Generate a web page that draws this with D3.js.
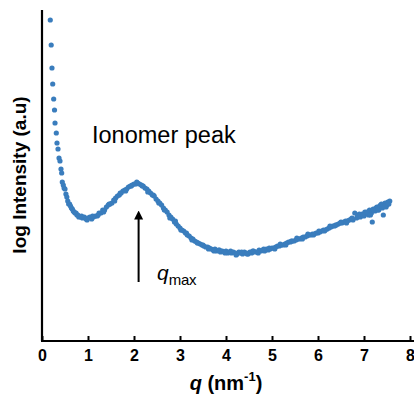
<!DOCTYPE html>
<html>
<head>
<meta charset="utf-8">
<script src="https://cdn.jsdelivr.net/npm/d3@7"></script>
<style>
  html, body { margin: 0; padding: 0; background: #fff; }
  svg text { font-family: "Liberation Sans", Arial, sans-serif; }
</style>
</head>
<body>
<div id="chart"></div>
<script>
// scattering vector q (nm^-1) and log intensity (arbitrary units)
const qValues = [
  0.18, 0.20, 0.217, 0.233, 0.254, 0.272, 0.283, 0.311, 0.326, 0.348, 0.37, 0.391, 0.413, 0.428, 0.441, 0.463,
  0.48, 0.50, 0.52, 0.54, 0.56, 0.58, 0.60, 0.62, 0.64, 0.66, 0.68, 0.70, 0.72, 0.74, 0.76, 0.78, 0.80,
  0.84, 0.88, 0.92, 0.96, 1.00, 1.04, 1.08, 1.12, 1.16, 1.20, 1.24, 1.28, 1.32, 1.36, 1.40, 1.44, 1.48,
  1.52, 1.56, 1.60, 1.64, 1.68, 1.72, 1.76, 1.80, 1.84, 1.88, 1.92, 1.96, 2.00, 2.04, 2.08, 2.12, 2.16,
  2.20, 2.24, 2.28, 2.32, 2.36, 2.40, 2.44, 2.48, 2.52, 2.56, 2.60, 2.64, 2.68, 2.72, 2.76, 2.80, 2.84,
  2.88, 2.92, 2.96, 3.00, 3.04, 3.08, 3.12, 3.16, 3.20, 3.24, 3.28, 3.32, 3.36, 3.40, 3.44, 3.48, 3.52,
  3.56, 3.60, 3.64, 3.68, 3.72, 3.76, 3.80, 3.84, 3.88, 3.92, 3.96, 4.00, 4.04, 4.08, 4.12, 4.16, 4.20,
  4.24, 4.28, 4.32, 4.36, 4.40, 4.44, 4.48, 4.52, 4.56, 4.60, 4.64, 4.68, 4.72, 4.76, 4.80, 4.84, 4.88,
  4.92, 4.96, 5.00, 5.04, 5.08, 5.12, 5.16, 5.20, 5.24, 5.28, 5.32, 5.36, 5.40, 5.44, 5.48, 5.52, 5.56,
  5.60, 5.64, 5.68, 5.72, 5.76, 5.80, 5.84, 5.88, 5.92, 5.96, 6.00, 6.04, 6.08, 6.12, 6.16, 6.20, 6.24,
  6.28, 6.32, 6.36, 6.40, 6.44, 6.48, 6.52, 6.56, 6.60, 6.64, 6.68, 6.72, 6.76, 6.80, 6.84, 6.88, 6.92,
  6.96, 7.00, 7.04, 7.08, 7.12, 7.16, 7.20, 7.24, 7.28, 7.32, 7.36, 7.40, 7.44, 7.48, 7.52, 7.56,
  6.90, 7.02, 7.10, 7.18, 7.26, 7.34, 7.42, 7.46, 7.50, 7.54,
  // second, noisier pass over the band
  0.86, 0.98, 1.10, 1.22, 1.34, 1.46, 1.58, 1.70, 1.82, 1.94, 2.06, 2.18, 2.30, 2.42, 2.54, 2.66, 2.78,
  2.90, 3.02, 3.14, 3.26, 3.38, 3.50, 3.62, 3.74, 3.86, 3.98, 4.10, 4.22, 4.34, 4.46, 4.58, 4.70, 4.82,
  4.94, 5.06, 5.18, 5.30, 5.42, 5.54, 5.66, 5.78, 5.90, 6.02, 6.14, 6.26, 6.38, 6.50, 6.62, 6.74, 6.86,
  6.98, 7.06, 7.14, 7.22, 7.30, 7.38, 7.45, 7.52
];
const intensity = [
  321, 296, 273, 257, 242, 231, 218, 208, 198, 192, 183, 180, 172, 168, 159, 156,
  153, 152, 147, 144, 140, 137, 137, 135, 133, 132, 130, 129, 128, 128, 126, 126, 124,
  124, 123, 124, 122, 123, 124, 122, 124, 125, 125, 128, 128, 131, 131, 134, 136, 137,
  138, 141, 143, 145, 146, 148, 150, 151, 152, 154, 155, 156, 157, 157, 158, 157, 156,
  155, 153, 152, 150, 148, 146, 145, 142, 140, 138, 136, 133, 131, 129, 126, 124, 122,
  119, 117, 115, 113, 111, 110, 108, 106, 105, 103, 102, 100, 99, 98, 97, 96, 95,
  94, 94, 93, 92, 91, 92, 90, 91, 89, 90, 89, 90, 88, 89, 88, 89, 88,
  87, 89, 88, 87, 89, 88, 87, 89, 88, 90, 89, 89, 91, 90, 91, 90, 92,
  91, 92, 93, 93, 94, 95, 95, 96, 96, 97, 98, 99, 99, 100, 100, 101, 102,
  102, 103, 104, 104, 105, 106, 106, 107, 107, 108, 108, 109, 110, 111, 111, 112, 113,
  114, 115, 115, 116, 117, 118, 118, 119, 120, 120, 121, 122, 121, 128, 123, 126, 124,
  127, 125, 128, 127, 131, 128, 132, 130, 134, 131, 136, 133, 137, 134, 139, 140,
  127, 129, 126, 119, 133, 135, 126, 138, 136, 137,
  125, 121, 125, 126, 129, 137, 140, 148, 150, 155, 159, 155, 149, 146, 138, 131, 123,
  120, 111, 108, 101, 98, 96, 92, 90, 91, 88, 90, 86, 89, 87, 90, 88, 92,
  93, 92, 97, 96, 100, 103, 102, 107, 106, 110, 110, 115, 116, 119, 118, 123, 125,
  126, 129, 126, 131, 131, 137, 135, 138
];
const xTicks = [0, 1, 2, 3, 4, 5, 6, 7, 8];
const peakQ = 2.1;
const arrowSpan = [59, 130];

const width = 414, height = 395;
const margin = {left: 42, top: 10, bottom: 54};

const svg = d3.select('#chart').append('svg')
  .attr('width', width).attr('height', height);

const xScale = d3.scaleLinear().domain([0, 8]).range([margin.left, margin.left + 8 * 46]);
const yScale = d3.scaleLinear().domain([0, 331]).range([height - margin.bottom, margin.top]);

const points = qValues.map((q, i) => ({q: q, v: intensity[i]}));

// data
svg.append('g')
  .selectAll('circle')
  .data(points)
  .join('circle')
  .attr('cx', d => xScale(d.q))
  .attr('cy', d => yScale(d.v))
  .attr('r', 2.6)
  .attr('fill', '#3a7dbd');

// axes
const xAxis = svg.append('g')
  .attr('transform', `translate(0,${yScale(0)})`)
  .call(d3.axisBottom(xScale).tickValues(xTicks).tickSizeInner(-5).tickSizeOuter(0).tickPadding(9));

xAxis.select('.domain').attr('stroke', '#000').attr('stroke-width', 2.2)
  .attr('d', `M${margin.left - 1},0H${width}`);
xAxis.selectAll('.tick line').attr('stroke', '#000').attr('stroke-width', 2);
xAxis.selectAll('.tick text')
  .attr('font-family', '"Liberation Sans", Arial, sans-serif')
  .attr('font-size', 16).attr('font-weight', 'bold').attr('fill', '#000');

svg.append('line')
  .attr('x1', xScale(0)).attr('x2', xScale(0))
  .attr('y1', margin.top).attr('y2', yScale(0))
  .attr('stroke', '#000').attr('stroke-width', 2.2);

// axis titles
const xTitle = svg.append('text')
  .attr('x', xScale(4)).attr('y', 390)
  .attr('text-anchor', 'middle')
  .attr('font-size', 20).attr('font-weight', 'bold');
xTitle.append('tspan').attr('font-style', 'italic').text('q');
xTitle.append('tspan').text(' (nm');
xTitle.append('tspan').attr('font-size', 13).attr('dy', -9).text('-1');
xTitle.append('tspan').attr('dy', 9).text(')');

svg.append('text')
  .attr('transform', `translate(26,175) rotate(-90)`)
  .attr('text-anchor', 'middle')
  .attr('font-size', 19).attr('font-weight', 'bold')
  .text('log Intensity (a.u)');

// annotations
svg.append('text')
  .attr('x', 92).attr('y', 143)
  .attr('font-size', 23.5)
  .text('Ionomer peak');

svg.append('defs').append('marker')
  .attr('id', 'arrowhead')
  .attr('viewBox', '0 0 10 10')
  .attr('refX', 5).attr('refY', 5)
  .attr('markerWidth', 4.5).attr('markerHeight', 5)
  .attr('orient', 'auto')
  .append('path').attr('d', 'M0,0L10,5L0,10Z').attr('fill', '#000');

svg.append('line')
  .attr('x1', xScale(peakQ)).attr('x2', xScale(peakQ))
  .attr('y1', yScale(arrowSpan[0])).attr('y2', yScale(arrowSpan[1]) + 4)
  .attr('stroke', '#000').attr('stroke-width', 2)
  .attr('marker-end', 'url(#arrowhead)');

const qmax = svg.append('text')
  .attr('x', 157).attr('y', 280)
  .attr('font-size', 21);
qmax.append('tspan').attr('font-style', 'italic').text('q');
qmax.append('tspan').attr('font-size', 15).attr('dy', 5).attr('letter-spacing', -0.3).text('max');
</script>
</body>
</html>
